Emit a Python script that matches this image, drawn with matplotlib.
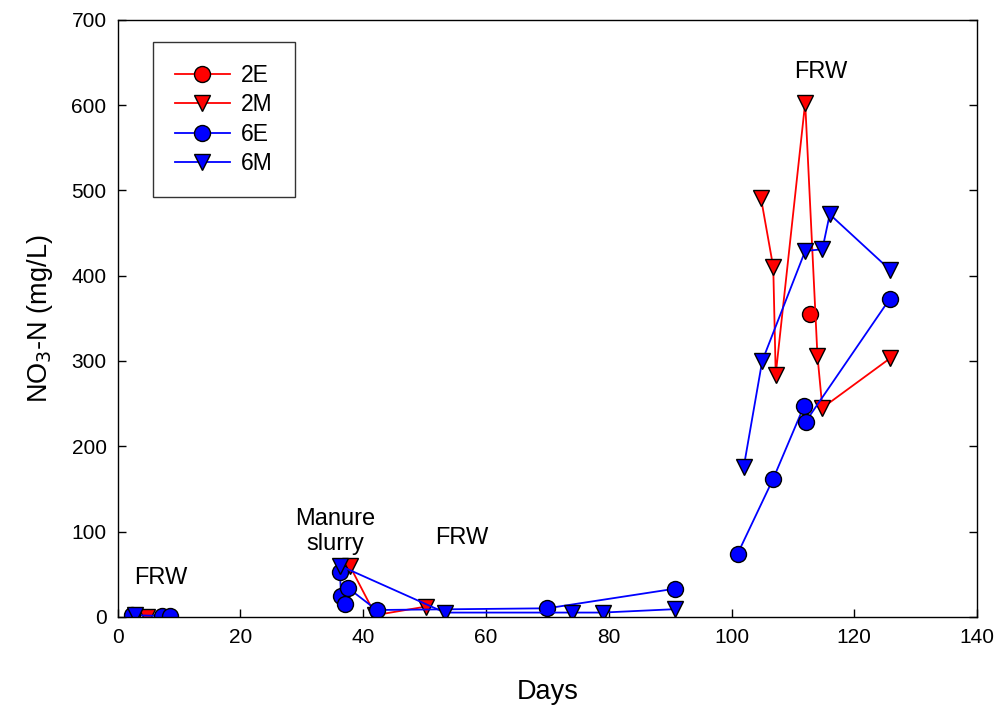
import numpy as np
import matplotlib
matplotlib.use("Agg")
import matplotlib.pyplot as plt

plt.rcParams['font.family'] = ['Liberation Sans', 'DejaVu Sans']

nan = np.nan
# 2E
days_2E = [112.8]
vals_2E = [355]
# 2M (NaN = gap in line)
days_2M = [4.8, nan, 37.8, 42.0, 50.2, nan, 104.8, 106.8, 107.2, 112.0, 114.0, 114.8, 125.8]
vals_2M = [0, nan, 60, 2, 12, nan, 491, 410, 284, 603, 306, 245, 303]
# 6E
days_6E = [2.3, 7.2, 8.5, nan, 36.2, 36.4, 37.1, 37.5, 42.2, 70.0, 90.8, nan,
           101.0, 106.8, 111.8, 112.1, 125.8]
vals_6E = [2, 1, 1, nan, 53, 25, 15, 34, 8, 10, 33, nan,
           74, 162, 247, 229, 373]
# 6M
days_6M = [2.8, nan, 36.2, 53.3, 74.0, 79.0, 90.8, nan,
           102.0, 105.0, 112.0, 114.8, 116.0, 125.8]
vals_6M = [2, nan, 60, 5, 5, 5, 9, nan,
           176, 300, 429, 431, 472, 407]

labels = ['2E', '2M', '6E', '6M']
annotations = [(7, 46, 'FRW'), (35.5, 100, 'Manure\nslurry'), (56, 93, 'FRW'), (114.5, 639, 'FRW')]

fig = plt.figure(figsize=(9.97, 7.09), dpi=100)
ax = fig.add_axes([0.118, 0.130, 0.862, 0.842])

series = [
    (days_2E, vals_2E, 'red', 'o'),
    (days_2M, vals_2M, 'red', 'v'),
    (days_6E, vals_6E, 'blue', 'o'),
    (days_6M, vals_6M, 'blue', 'v'),
]
for (d, v, c, m), lab in zip(series, labels):
    ax.plot(d, v, color=c, marker=m, markersize=11.5 if m == 'o' else 12,
            markerfacecolor=c, markeredgecolor='black', markeredgewidth=1.0,
            linewidth=1.3, label=lab)

ax.set_xlim(0, 140)
ax.set_ylim(0, 700)
ax.set_xticks(np.arange(0, 141, 20))
ax.set_yticks(np.arange(0, 701, 100))
ax.tick_params(axis='both', direction='in', labelsize=15, length=6, width=1,
               right=True, top=False, pad=8)
for s in ax.spines.values():
    s.set_linewidth(1.0)

ax.set_xlabel('Days', fontsize=19.5, labelpad=23)
ax.set_ylabel('NO$_3$-N (mg/L)', fontsize=19.5, labelpad=12)

for x, y, t in annotations:
    ax.text(x, y, t, fontsize=17, ha='center', va='center', linespacing=1.15)

leg = ax.legend(loc='upper left', bbox_to_anchor=(0.041, 0.963), fontsize=16.5,
                frameon=True, fancybox=False, edgecolor='black',
                handlelength=2.4, borderpad=0.95, labelspacing=0.28,
                handletextpad=0.5, borderaxespad=0)
leg.get_frame().set_linewidth(1.0)

fig.savefig('out.png', dpi=100)
